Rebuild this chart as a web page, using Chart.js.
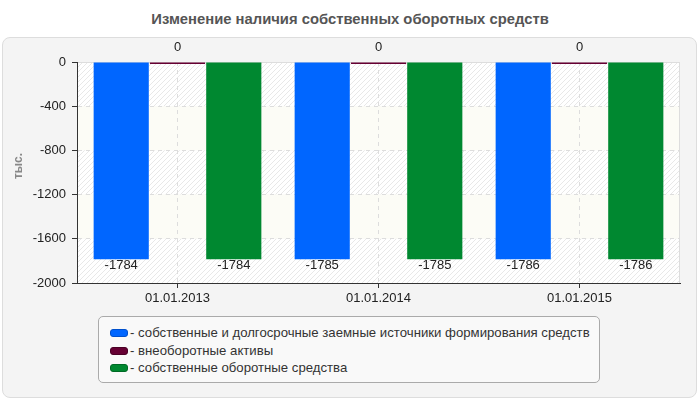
<!DOCTYPE html>
<html>
<head>
<meta charset="utf-8">
<script src="https://cdn.jsdelivr.net/npm/chart.js@4"></script>
<style>
body{margin:0;width:700px;height:400px;background:#fff;font-family:"Liberation Sans",Arial,sans-serif;position:relative;overflow:hidden}
#title{position:absolute;top:11px;left:0;width:700px;text-align:center;font-weight:bold;font-size:14.8px;color:#555}
#panel{position:absolute;left:2px;top:37px;width:695px;height:361px;background:#f4f4f4;border:1px solid #ddd;border-radius:8px;box-sizing:border-box}
#chart{position:absolute;left:0;top:0}
#legend{position:absolute;left:98px;top:316px;width:502px;height:67px;box-sizing:border-box;border:1px solid #aaa;border-radius:5px;background:#f9f9f9;padding:7px 0 0 11px;font-size:13.2px;color:#333}
.item{height:17.5px;line-height:17.5px;white-space:nowrap}
.sw{display:inline-block;width:16px;height:6px;border:1px solid;border-radius:3px;margin-right:2px;vertical-align:0px}
</style>
</head>
<body>
<div id="title">Изменение наличия собственных оборотных средств</div>
<div id="panel"></div>
<canvas id="chart" width="700" height="310"></canvas>
<div id="legend"></div>
<script>
// данные
const categories = ['01.01.2013', '01.01.2014', '01.01.2015'];
const seriesNames = [
    'собственные и долгосрочные заемные источники формирования средств',
    'внеоборотные активы',
    'собственные оборотные средства'
];
const ownAndLongTerm = [-1784, -1785, -1786];
const nonCurrentAssets = [0, 0, 0];
const ownWorkingCapital = [-1784, -1785, -1786];
const yTicks = [0, -400, -800, -1200, -1600, -2000];
const yTitle = 'тыс.';

const colors = ['#0066ff', '#660033', '#008830'];
const borders = ['#0050cc', '#4a0025', '#006a25'];

// штриховка фона
const pc = document.createElement('canvas');
pc.width = 5; pc.height = 5;
const p = pc.getContext('2d');
p.fillStyle = '#ffffff'; p.fillRect(0, 0, 5, 5);
p.strokeStyle = '#e8e8e8'; p.lineWidth = 1;
p.beginPath();
p.moveTo(0, 5); p.lineTo(5, 0);
p.moveTo(-2.5, 2.5); p.lineTo(2.5, -2.5);
p.moveTo(2.5, 7.5); p.lineTo(7.5, 2.5);
p.stroke();

const bands = {
    id: 'bands',
    beforeDraw(chart) {
        const ctx = chart.ctx, a = chart.chartArea, y = chart.scales.y;
        const pat = ctx.createPattern(pc, 'repeat');
        ctx.save();
        for (let i = 0; i < yTicks.length - 1; i++) {
            const y0 = y.getPixelForValue(yTicks[i]);
            const y1 = y.getPixelForValue(yTicks[i + 1]);
            ctx.fillStyle = i % 2 === 0 ? pat : '#fcfcf6';
            ctx.fillRect(a.left, y0, a.right - a.left, y1 - y0);
        }
        ctx.strokeStyle = '#dddddd';
        ctx.lineWidth = 1;
        ctx.beginPath();
        ctx.moveTo(a.left, a.top + 0.5); ctx.lineTo(a.right - 0.5, a.top + 0.5);
        ctx.lineTo(a.right - 0.5, a.bottom);
        ctx.stroke();
        // подпись оси
        ctx.translate(19, 166);
        ctx.rotate(-Math.PI / 2);
        ctx.fillStyle = '#888';
        ctx.font = 'bold 12px "Liberation Sans", Arial, sans-serif';
        ctx.textAlign = 'center';
        ctx.textBaseline = 'middle';
        ctx.fillText(yTitle, 0, 0);
        ctx.restore();
    }
};

const valueLabels = {
    id: 'valueLabels',
    afterDatasetsDraw(chart) {
        const ctx = chart.ctx, y = chart.scales.y;
        ctx.save();
        ctx.font = '13px "Liberation Sans", Arial, sans-serif';
        ctx.fillStyle = '#222';
        ctx.textAlign = 'center';
        chart.data.datasets.forEach((ds, di) => {
            chart.getDatasetMeta(di).data.forEach((bar, i) => {
                const v = ds.data[i];
                const py = y.getPixelForValue(v);
                if (v >= 0) {
                    ctx.textBaseline = 'bottom';
                    ctx.fillText(String(v), bar.x, py - 8);
                } else {
                    ctx.textBaseline = 'top';
                    ctx.fillText(String(v), bar.x, py);
                }
            });
        });
        ctx.restore();
    }
};

const series = [ownAndLongTerm, nonCurrentAssets, ownWorkingCapital];

new Chart(document.getElementById('chart').getContext('2d'), {
    type: 'bar',
    data: {
        labels: categories,
        datasets: series.map((d, i) => ({
            label: seriesNames[i],
            data: d,
            backgroundColor: colors[i],
            borderWidth: 0,
            barPercentage: 0.98,
            categoryPercentage: 0.84,
            minBarLength: i === 1 ? 2 : 0
        }))
    },
    options: {
        responsive: false,
        animation: false,
        layout: { padding: { top: 62, right: 20, left: 0, bottom: 0 } },
        plugins: { legend: { display: false }, tooltip: { enabled: false } },
        scales: {
            x: {
                afterFit: s => { s.height = 27; },
                grid: { offset: false, color: '#dddddd', tickColor: '#333', tickLength: 5 },
                border: { color: '#333', width: 1, dash: [4, 4] },
                ticks: { color: '#222', padding: 3, font: { size: 13, family: '"Liberation Sans", Arial, sans-serif' } }
            },
            y: {
                min: -2000,
                max: 0,
                afterFit: s => { s.width = 77; },
                afterBuildTicks: s => { s.ticks = yTicks.map(v => ({ value: v })); },
                grid: { color: '#dddddd', tickColor: '#333', tickLength: 5 },
                border: { color: '#333', width: 1, dash: [4, 4] },
                ticks: {
                    color: '#222', padding: 6,
                    font: { size: 13, family: '"Liberation Sans", Arial, sans-serif' },
                    callback: v => String(v)
                }
            }
        }
    },
    plugins: [bands, valueLabels]
});

// легенда
const leg = document.getElementById('legend');
seriesNames.forEach((n, i) => {
    const row = document.createElement('div');
    row.className = 'item';
    const sw = document.createElement('span');
    sw.className = 'sw';
    sw.style.background = colors[i];
    sw.style.borderColor = borders[i];
    row.appendChild(sw);
    row.appendChild(document.createTextNode('- ' + n));
    leg.appendChild(row);
});
</script>
</body>
</html>
